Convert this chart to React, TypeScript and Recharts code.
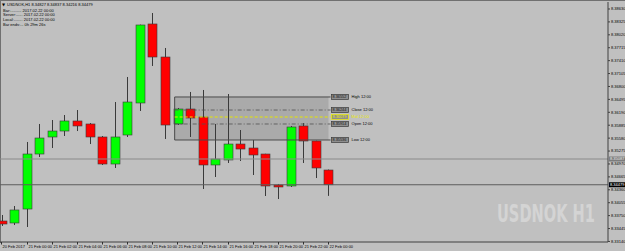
import React, { useLayoutEffect, useRef, useState } from 'react';
import { ComposedChart, Bar, XAxis, YAxis, ReferenceLine, ReferenceArea, ReferenceDot } from 'recharts';

const times = [
  '20 Feb 22:00', '20 Feb 23:00', '21 Feb 00:00', '21 Feb 01:00', '21 Feb 02:00', '21 Feb 03:00',
  '21 Feb 04:00', '21 Feb 05:00', '21 Feb 06:00', '21 Feb 07:00', '21 Feb 08:00', '21 Feb 09:00',
  '21 Feb 10:00', '21 Feb 11:00', '21 Feb 12:00', '21 Feb 13:00', '21 Feb 14:00', '21 Feb 15:00',
  '21 Feb 16:00', '21 Feb 17:00', '21 Feb 18:00', '21 Feb 19:00', '21 Feb 20:00', '21 Feb 21:00',
  '21 Feb 22:00', '21 Feb 23:00', '22 Feb 00:00',
];
const opens = [8.33623, 8.33576, 8.33906, 8.35205, 8.35607, 8.35748, 8.35985, 8.35914, 8.35607, 8.34969, 8.35654, 8.3641, 8.38276, 8.37496, 8.35914, 8.36268, 8.36079, 8.34946, 8.35064, 8.35441, 8.35347, 8.35205, 8.34473, 8.3445, 8.35867, 8.35512, 8.34827];
const highs = [8.33765, 8.33977, 8.35489, 8.35914, 8.36008, 8.36126, 8.36244, 8.35937, 8.3563, 8.36433, 8.37024, 8.3826, 8.38535, 8.37709, 8.36292, 8.3667, 8.36717, 8.35914, 8.36622, 8.35772, 8.35536, 8.3521, 8.34497, 8.35867, 8.35937, 8.3552, 8.34837];
const lows = [8.33505, 8.33528, 8.33481, 8.35134, 8.35347, 8.3563, 8.35748, 8.35441, 8.34946, 8.34875, 8.35607, 8.36221, 8.37284, 8.3556, 8.3589, 8.35607, 8.34379, 8.34662, 8.34993, 8.3504, 8.34709, 8.34213, 8.34142, 8.34426, 8.34993, 8.34638, 8.34216];
const closes = [8.33552, 8.33883, 8.35205, 8.35583, 8.35748, 8.35985, 8.35867, 8.35607, 8.34969, 8.35607, 8.36433, 8.38252, 8.37496, 8.3589, 8.36268, 8.36055, 8.34946, 8.35087, 8.35441, 8.35323, 8.35182, 8.3445, 8.34426, 8.35843, 8.35512, 8.34875, 8.34479];
const emptySlots = 22;

const axisLabels = [
  '20 Feb 2017', '21 Feb 00:00', '21 Feb 02:00', '21 Feb 04:00', '21 Feb 06:00', '21 Feb 08:00',
  '21 Feb 10:00', '21 Feb 12:00', '21 Feb 14:00', '21 Feb 16:00', '21 Feb 18:00', '21 Feb 20:00',
  '21 Feb 22:00', '22 Feb 00:00',
];
const priceTicks = [8.3863, 8.38325, 8.3802, 8.37715, 8.3741, 8.37105, 8.368, 8.36495, 8.3619, 8.35885, 8.3558, 8.35275, 8.3497, 8.34665, 8.3436, 8.34055, 8.3375, 8.33445, 8.3314];
const priceDomain = [8.33127, 8.38795];

const hLinePrice = 8.35087;
const bidPrice = 8.34479;

const boxNames = ['High', 'Close', 'Mid', 'Open', 'Low'];
const boxPrices = [8.36552, 8.36244, 8.36079, 8.35914, 8.35536];
const boxTime = '12:00';
const boxStart = 14;
const boxEnd = 26.0;
const boxTagAt = 26.16;

const headerTitle = 'USDNOK,H1  8.34827 8.34837 8.34216 8.34479';
const headerLines = ['Bar:.......... 2017.02.22 00:00', 'Server:...... 2017.02.22 00:00', 'Local:........ 2017.02.22 00:00', 'Bar ends:... 0h 29m 26s'];
const watermark = 'USDNOK H1';

const data = [] as any[];
for (let i = 0; i < times.length + emptySlots; i++) {
  if (i < times.length) {
    data.push({ t: times[i], o: opens[i], h: highs[i], l: lows[i], c: closes[i], range: [lows[i], highs[i]] });
  } else {
    data.push({ t: 'slot' + i, range: null });
  }
}

const FONT = 'Liberation Sans, Arial, sans-serif';

const Candle = (props: any) => {
  const { x, y, width, height, payload } = props;
  if (!payload || payload.o == null) return null;
  const top = Math.min(y, y + height);
  const bot = Math.max(y, y + height);
  const { o, h, l, c } = payload;
  const py = (p: number) => top + ((h - p) / (h - l)) * (bot - top);
  const cx = Math.round(x + width / 2) + 0.5;
  const up = c >= o;
  const bt = py(Math.max(o, c));
  const bb = py(Math.min(o, c));
  return (
    <g>
      <line x1={cx} x2={cx} y1={top} y2={bot} stroke="#3a3a3a" strokeWidth={1} />
      <rect x={cx - 4.5} y={bt} width={9} height={Math.max(bb - bt, 1)} fill={up ? '#00ff00' : '#ff0000'} stroke="#3a3a3a" strokeWidth={0.6} />
    </g>
  );
};

const XTick = (props: any) => {
  const { x, y, index } = props;
  if (index >= times.length || index % 2 !== 0) return null;
  const lbl = axisLabels[index / 2];
  const px = Math.round(x) + 0.5;
  return (
    <g>
      <line x1={px} x2={px} y1={y} y2={y + 2.5} stroke="#303030" strokeWidth={1} />
      <text x={px + 1} y={y + 6} fontSize={4} fontFamily={FONT} fill="#000">{lbl}</text>
    </g>
  );
};

const YTick = (props: any) => {
  const { x, y, payload } = props;
  return (
    <text x={x + 1} y={y + 1.4} fontSize={4} fontFamily={FONT} fill="#000" textAnchor="start">
      {Number(payload.value).toFixed(5)}
    </text>
  );
};

const axisTag = (price: number, bg: string, fg: string) => (p: any) => {
  const vb = p.viewBox || {};
  const x = vb.x + vb.width;
  const y = vb.y;
  return (
    <g>
      <rect x={x + 1} y={y - 2.5} width={16} height={5} fill={bg} />
      <text x={x + 2} y={y + 1.4} fontSize={4} fontFamily={FONT} fill={fg}>{price.toFixed(5)}</text>
    </g>
  );
};

const boxTag = (name: string, price: number) => (p: any) => {
  const { cx, cy } = p;
  const yellow = name === 'Mid';
  return (
    <g>
      <rect x={cx + 1} y={cy - 2.5} width={17} height={5} fill="#8e8e8e" stroke={yellow ? '#f0f000' : '#3a3a3a'} strokeWidth={0.7} />
      <text x={cx + 2} y={cy + 1.4} fontSize={3.8} fontFamily={FONT} fill={yellow ? '#f0f000' : '#111'}>{price.toFixed(5)}</text>
      <text x={cx + 21} y={cy + 1.4} fontSize={4} fontFamily={FONT} fill={yellow ? '#e8e800' : '#000'}>{name + ' ' + boxTime}</text>
    </g>
  );
};

const Watermark = () => {
  const ref = useRef<SVGTextElement>(null);
  const [sx, setSx] = useState(0.7);
  useLayoutEffect(() => {
    if (ref.current) {
      const w = ref.current.getComputedTextLength();
      if (w > 0) setSx(98 / w);
    }
  }, []);
  return (
    <g transform={`translate(497,222) scale(${sx},1)`}>
      <text ref={ref} x={0} y={0} fontSize={25} fontWeight="bold" fontFamily="DejaVu Sans Condensed, Liberation Sans Narrow, sans-serif" fill="#d4d4d4">{watermark}</text>
    </g>
  );
};

export default function App() {
  return (
    <div style={{ position: 'absolute', left: 0, top: 0, width: 625, height: 251, overflow: 'hidden', background: '#c0c0c0' }}>
      <div style={{ position: 'absolute', left: 0, top: 0, width: 625, height: 1, background: '#707070' }} />
      <div style={{ position: 'absolute', left: 0, top: 0, width: 1, height: 243, background: '#707070' }} />
      <div style={{ position: 'absolute', left: -5, top: 0 }}>
        <ComposedChart width={630} height={251} data={data} margin={{ top: 2, right: 0, left: 0, bottom: 0 }}>
          <XAxis
            xAxisId="c"
            dataKey="t"
            type="category"
            interval={0}
            height={9}
            tickSize={0}
            tickMargin={0}
            tickLine={false}
            tick={<XTick />}
            axisLine={{ stroke: '#404040' }}
            padding={{ left: 0.16, right: -2.6 }}
          />
          <XAxis xAxisId="n" type="number" domain={[-0.5, 48.5]} hide allowDataOverflow padding={{ left: 0.16, right: -2.6 }} />
          <YAxis
            orientation="right"
            type="number"
            domain={priceDomain}
            allowDataOverflow
            ticks={priceTicks}
            interval={0}
            width={17}
            tickSize={2}
            tickMargin={0}
            tickLine={{ stroke: '#404040' }}
            axisLine={{ stroke: '#404040' }}
            tick={<YTick />}
          />
          <ReferenceArea xAxisId="n" x1={boxStart} x2={boxEnd} y1={boxPrices[4]} y2={boxPrices[0]} fill="#aaaaaa" fillOpacity={1} stroke="none" />
          <ReferenceLine xAxisId="n" y={hLinePrice} stroke="#8a8a8a" strokeWidth={1} label={axisTag(hLinePrice, '#7c7c7c', '#e8e8e8')} />
          <ReferenceLine xAxisId="n" y={bidPrice} stroke="#5c5c5c" strokeWidth={1} label={axisTag(bidPrice, '#000000', '#ffffff')} />
          <Bar xAxisId="c" dataKey="range" barSize={9} isAnimationActive={false} shape={<Candle />} />
          <ReferenceLine xAxisId="n" segment={[{ x: boxStart, y: boxPrices[4] }, { x: boxStart, y: boxPrices[0] }]} stroke="#4a4a4a" strokeWidth={1} />
          <ReferenceLine xAxisId="n" segment={[{ x: boxStart, y: boxPrices[0] }, { x: boxTagAt, y: boxPrices[0] }]} stroke="#4a4a4a" strokeWidth={1} />
          <ReferenceLine xAxisId="n" segment={[{ x: boxStart, y: boxPrices[4] }, { x: boxTagAt, y: boxPrices[4] }]} stroke="#4a4a4a" strokeWidth={1} />
          <ReferenceLine xAxisId="n" segment={[{ x: boxStart, y: boxPrices[1] }, { x: boxTagAt, y: boxPrices[1] }]} stroke="#505050" strokeWidth={0.8} strokeDasharray="4 2 1 2" />
          <ReferenceLine xAxisId="n" segment={[{ x: boxStart, y: boxPrices[3] }, { x: boxTagAt, y: boxPrices[3] }]} stroke="#505050" strokeWidth={0.8} strokeDasharray="4 2 1 2" />
          <ReferenceLine xAxisId="n" segment={[{ x: boxStart, y: boxPrices[2] }, { x: boxTagAt, y: boxPrices[2] }]} stroke="#e6e600" strokeWidth={1} strokeDasharray="3 2" />
          {boxNames.map((n, k) => (
            <ReferenceDot key={n} xAxisId="n" x={boxTagAt} y={boxPrices[k]} r={1} shape={boxTag(n, boxPrices[k])} />
          ))}
        </ComposedChart>
      </div>
      <svg width={625} height={251} style={{ position: 'absolute', left: 0, top: 0, pointerEvents: 'none' }}>
        <text x={2} y={5.6} fontSize={4} fontFamily="DejaVu Sans, sans-serif" fill="#000">▼</text>
        <text x={7} y={5.6} fontSize={4} fontFamily={FONT} fill="#000">{headerTitle}</text>
        {headerLines.map((s, k) => (
          <text key={k} x={3} y={11.5 + k * 4.7} fontSize={4} fontFamily={FONT} fill="#000">{s}</text>
        ))}
        <Watermark />
      </svg>
    </div>
  );
}
